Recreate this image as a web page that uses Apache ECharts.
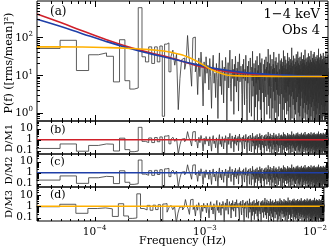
<!DOCTYPE html>
<html><head><meta charset="utf-8">
<script src="https://cdn.jsdelivr.net/npm/echarts@6/dist/echarts.min.js"></script>
<style>html,body{margin:0;padding:0;background:#fff}#c{width:330px;height:249px}</style>
</head><body><div id="c"></div>
<script>
// ---------------- data ----------------
const DF = 1.93e-5;          // frequency resolution of the periodogram (Hz)
const FIRST_BIN = 2;         // index of first plotted bin (f = k*DF)
// periodogram power, bins k = 2,3,4,...
const powerLow = [50,82,13,34,38,31,6.5,85,7,4.2,4.5,600,30,22,55,20,55,22,58,0.8];
const powerMid = [65,70,12,30,45,18,35,1.2,8,25,28,14,22,110,30,16,5,95,100,12,20,3,28,9,40,15,1.5,22,6,30,11];
const powerHi1 = [18,4,27,9,1.3,15,33,6,11,2.5,20,8,0.7,14,38,5,12,3,24,10,
1.8,16,7,29,13,0.4,9,21,4.5,17,45,6,2,11,26,8,14,0.9,19,5,
31,10,3.5,15,7,22,1.1,12,36,6.5,9,17];
const powerHi2 = [12,3,0.5,19,8,26,4,1.6,14,7,33,10,2.2,0.3,17,6,11,23,5,1,
9,28,13,3.8,0.8,16,7,42,2.7,11,5,20,0.2,8,15,1.4,24,6,10,3,
31,0.6,13,7.5,18,2,9,4,37,12,1.2,21,6,0.4,15,27,3.3,8,11,5.5,
1.9,19,10,0.1,25,7,14,4.2,2.6,30,9,16,0.9,6,22,12,3,48,8,1.5,
13,5,20,0.7,10,34,2.4,7,17,11,4.6,0.3,26,9,14,1.3,6,19,3.6,40,
8,0.5,15,11,2.1,23,6.5,9,1,29,13,4,18,0.2,7,12,3,21,10,5,
0.8,16,36,2.8,9,14,6,1.7,24,11,4.4,0.4,19,8,27,3.1,13,7,0.6,17,
10,22,1.2,5.5,44,9,2.5,15,6,0.3,12,31,4,18,8,1.8,25,11,3.4,14,
7,0.9,20,13,2,9.5,38,5,16,1.1,11,4.8,23,0.5,8,29,3,12,6.5,18,
1.4,10,26,4,0.2,15,8,21,2.7,13,52,6,0.7,11,17,3.5,9,24,1.6,7,
14,32,2.3,10,5,0.4,19,12,6,1.2,27,8,16,3.8,0.9,22,11,4.5,13,35,
7,1.9,17,9,0.3,24,5.5,12,2.6,41,10,6,15,1,20,8,3.2,28,0.6,13,
11,4,18,0.8,9,30,2.2,14,7,1.5,23,12,5,0.2,16,39,3.6,10,6.5,19,
2.4,12,8,26,0.5,15,4.2,21,9,1.3,11,33,6,17,0.7,13,3,25,7.5,1.8,
20,10,5,46,1,14,8,2.8,18,0.4,12,27,4.6,9,16,1.6,22,6,11,3.3,
0.9,29,13,7,2,17,10,0.3,24,5.5,15,37,1.2,8,19,3.8,12,0.6,21,9,
4.4,14,31,1.7,7,11,0.2,18,6,25,2.6,10,13,0.8,43,5,16,8.5,1.4,22,
12,3,9,20,0.5,15,7,28,1.9,11,4.2,17,0.3,13,35,6,10,2.3,24,8,
1.1,18,5,14,40,0.7,9,21,3.5,12,7,1.5,26,11,4.8,16,0.4,19,10,2.8,
30,6,13,0.9,23,8,2,15,11,0.2,19,5.5,33,9,1.3,14,7,27,3.6,12,
0.6,17,10,4,22,1.8,13,49,6,9,0.4,16,2.5,25,11,7.5,0.9,20,5,14,
8,29,1.2,12,3.2,18,10,0.3,15,36,6,2.1,21,9,13,0.7,24,4.4,11,17,
1.6,7,32,12,0.5,19,5,14,2.7,10,26,8,0.2,16,4,22,11,1.4,13,6.5,
38,9,2.3,15,0.8,20,7,12,3.8,28,1,10,17,5.5,0.4,23,14,2,9,31,
6,0.6,18,11,4.5,13,1.5,25,8,0.3,16,42,3,10,7,21,1.1,12,5,19,
9.5,2.4,14,0.7,27,11,6,17,1.8,13,4,23,0.5,10,34,8,15,2.9,12,7];
const power = powerLow.concat(powerMid, powerHi1, powerHi2);

// fitted models at log-spaced frequencies
const modelFreq = [3e-5,4.75e-5,7.5e-5,1.19e-4,1.89e-4,3e-4,4.75e-4,7.5e-4,1.19e-3,1.89e-3,3e-3,4.75e-3,7.5e-3,1.19e-2];
const model1 = [410,250,150,90,57,39,28,18.5,13.6,11.2,10.1,9.5,9.2,9.05];     // red
const model2 = [295,195,125,80,53,37,27,19.5,14.6,12,10.6,9.8,9.4,9.15];       // blue
const model3 = [55,55,54.5,53,50.5,46.5,39.5,25.5,12.2,9.4,9.15,9.05,9,9];      // orange

const X_MIN = 3e-5, X_MAX = 1.2e-2;
const Y_MAIN = [0.6, 900], Y_SUB = [0.05, 50];

// ---------------- helpers ----------------
function stepData(vals){
  const out=[];
  vals.forEach((v,i)=>{const k=FIRST_BIN+i; out.push([(k-0.5)*DF,v],[(k+0.5)*DF,v]);});
  return out;
}
function modelAt(fr, mv, f){
  const lf=Math.log10(f);
  if (f<=fr[0]) return mv[0];
  for(let i=1;i<fr.length;i++){
    if(f<=fr[i]){
      const a=Math.log10(fr[i-1]), b=Math.log10(fr[i]);
      const t=(lf-a)/(b-a);
      return Math.pow(10, Math.log10(mv[i-1])+t*(Math.log10(mv[i])-Math.log10(mv[i-1])));
    }
  }
  return mv[mv.length-1];
}
function ratio(mv){ return power.map((v,i)=>v/modelAt(modelFreq,mv,(FIRST_BIN+i)*DF)); }
const res1 = ratio(model1), res2 = ratio(model2), res3 = ratio(model3);

function logTicks(lo, hi){
  const maj=[], min=[];
  for(let n=-6;n<=4;n++){
    for(let m=1;m<=9;m++){
      const v=m*Math.pow(10,n);
      if(v<=lo*1.0001||v>=hi*0.9999) continue;
      (m===1?maj:min).push(v);
    }
  }
  return {maj,min};
}
const xt = logTicks(X_MIN, X_MAX), ytm = logTicks(Y_MAIN[0], Y_MAIN[1]), yts = logTicks(Y_SUB[0], Y_SUB[1]);
function tickData(yt){
  const d=[];
  xt.maj.forEach(v=>d.push([v,1,0,1])); xt.min.forEach(v=>d.push([v,1,0,0]));
  yt.maj.forEach(v=>d.push([1e-3,v,1,1])); yt.min.forEach(v=>d.push([1e-3,v,1,0]));
  return d;
}
function tickSeries(idx, yt, lens){
  return {type:'custom', xAxisIndex:idx, yAxisIndex:idx, silent:true, z:10,
    encode:{x:0,y:1}, data:tickData(yt),
    renderItem:function(params, api){
      const cs=params.coordSys, x0=cs.x, y0=cs.y, w=cs.width, h=cs.height;
      const kind=api.value(2), maj=api.value(3);
      const p=api.coord([api.value(0), api.value(1)]);
      const L = lens[kind][maj?0:1];
      let s;
      if(kind===0){const px=Math.round(p[0])+0.5; s=[[px,y0+h,px,y0+h-L],[px,y0,px,y0+L]];}
      else {const py=Math.round(p[1])+0.5; s=[[x0,py,x0+L,py],[x0+w,py,x0+w-L,py]];}
      return {type:'group', children:s.map(q=>({type:'line',shape:{x1:q[0],y1:q[1],x2:q[2],y2:q[3]},style:{stroke:'#000',lineWidth:1}}))};
    }};
}

const FONT='DejaVu Serif';
const DATA_COLOR='#333';
const RED='#d0202a', BLUE='#1f3fa8', ORANGE='#ffb000';
const grids=[{top:1,height:120},{top:121,height:33},{top:154,height:33},{top:187,height:34}]
  .map(g=>Object.assign({left:37,right:2,show:true,borderColor:'#000',borderWidth:1,backgroundColor:'transparent'},g));

function isPow10(v){const l=Math.log10(v);return Math.abs(l-Math.round(l))<1e-6;}
const supMinus=n=>(n<0?'\u2212':'')+Math.abs(n);
const richLbl={b:{fontFamily:FONT,fontSize:10.5,color:'#000',verticalAlign:'bottom',lineHeight:13},
               s:{fontFamily:FONT,fontSize:7,color:'#000',verticalAlign:'top',lineHeight:8}};

const xAxes=grids.map((g,i)=>({type:'log',gridIndex:i,min:X_MIN,max:X_MAX,
  axisLine:{show:false},axisTick:{show:false},splitLine:{show:false},
  axisLabel:{show:i===3,margin:4,showMinLabel:false,showMaxLabel:false,
    formatter:v=>isPow10(v)?'{b|10}{s|'+supMinus(Math.round(Math.log10(v)))+'}':'',
    rich:richLbl}}));
const yAxes=grids.map((g,i)=>({type:'log',gridIndex:i,
  min:i===0?Y_MAIN[0]:Y_SUB[0],max:i===0?Y_MAIN[1]:Y_SUB[1],
  axisLine:{show:false},axisTick:{show:false},splitLine:{show:false},
  axisLabel:{show:true,margin:4,showMinLabel:false,showMaxLabel:false,
    formatter:i===0?(v=>isPow10(v)?'{b|10}{s|'+supMinus(Math.round(Math.log10(v)))+'}':'')
                   :(v=>isPow10(v)?String(Math.round(v*10)/10):''),
    fontFamily:FONT,fontSize:10.5,color:'#000',rich:richLbl}}));

const lineBase={type:'line',showSymbol:false,silent:true,animation:false,clip:true};
const curve=(mv,color)=>Object.assign({},lineBase,{xAxisIndex:0,yAxisIndex:0,smooth:true,
  data:modelFreq.map((f,i)=>[f,mv[i]]),lineStyle:{color:color,width:1.6}});
const series=[
  Object.assign({},lineBase,{xAxisIndex:0,yAxisIndex:0,data:stepData(power),lineStyle:{color:DATA_COLOR,width:0.8}}),
  curve(model1,RED), curve(model2,BLUE), curve(model3,ORANGE)
];
[[res1,RED],[res2,BLUE],[res3,ORANGE]].forEach((r,j)=>{
  const i=j+1;
  series.push(Object.assign({},lineBase,{xAxisIndex:i,yAxisIndex:i,data:stepData(r[0]),lineStyle:{color:DATA_COLOR,width:0.8}}));
  series.push(Object.assign({},lineBase,{xAxisIndex:i,yAxisIndex:i,data:[[X_MIN,1],[X_MAX,1]],lineStyle:{color:r[1],width:1.6}}));
});
series.push(tickSeries(0,ytm,[[6,3],[6,3]]));
[1,2,3].forEach(i=>series.push(tickSeries(i,yts,[[4,2],[4,2]])));

const T=(text,x,y,opt)=>Object.assign({type:'text',x:x,y:y,style:Object.assign({text:text,font:'12px "'+FONT+'"',fill:'#000',textAlign:'left',textVerticalAlign:'middle'},opt||{})});
const R=(text,x,y,fs)=>({type:'text',x:x,y:y,rotation:Math.PI/2,style:{text:text,font:(fs||11)+'px "'+FONT+'"',fill:'#000',textAlign:'center',textVerticalAlign:'middle'}});
const f11='11px "'+FONT+'"';
const graphic=[
  T('(a)',50,12), T('(b)',50,130,{font:f11}), T('(c)',50,162,{font:f11}), T('(d)',50,195,{font:f11}),
  T('1\u22124 keV',320,15,{textAlign:'right',font:'13px "'+FONT+'"'}),
  T('Obs 4',320,31,{textAlign:'right',font:'13px "'+FONT+'"'}),
  R('P(f) ([rms/mean]\u00B2)',9,63), R('D/M1',9,138,10), R('D/M2',9,170.5,10), R('D/M3',9,204,10),
  T('Frequency (Hz)',182.5,241,{textAlign:'center',font:f11})
];

const chart=echarts.init(document.getElementById('c'),null,{renderer:'canvas'});
chart.setOption({animation:false,grid:grids,xAxis:xAxes,yAxis:yAxes,series:series,graphic:graphic});
</script></body></html>
